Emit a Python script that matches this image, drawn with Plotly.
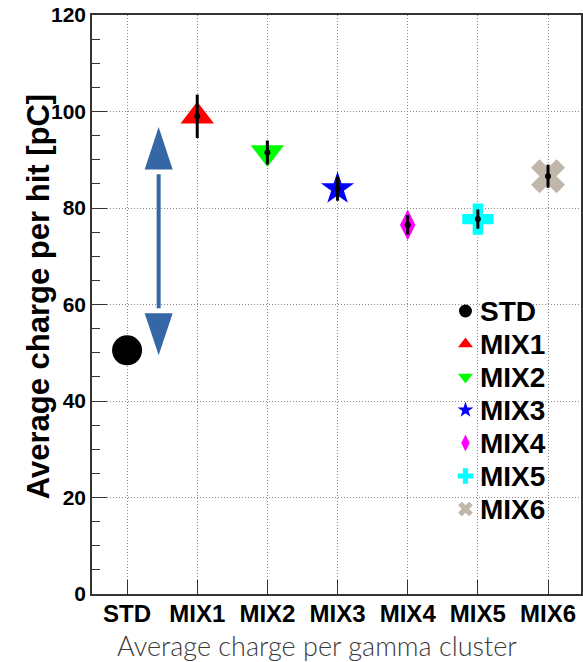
import plotly.graph_objects as go

categories = ["STD", "MIX1", "MIX2", "MIX3", "MIX4", "MIX5", "MIX6"]
values = [50.5, 99.0, 91.5, 84.0, 76.5, 77.7, 86.6]
errors = [0.0, 4.5, 2.5, 2.5, 2.0, 2.0, 2.4]
colors = ["#000000", "#ff0000", "#00ff00", "#0000ff", "#ff00ff", "#00ffff", "#c0b6aa"]
symbols = ["circle", "triangle-up", "triangle-down", "star", "diamond-tall", "cross", "x"]
sizes = [30, 29, 29, 25, 22, 26, 30]
legend_sizes = [13, 13, 13, 12, 12, 13, 13]

# arrow (STD -> mixtures gain)
arrow_x = 0.45
arrow_top = 96.8
arrow_top_base = 88.0
arrow_bottom = 49.5
arrow_bottom_base = 58.2
arrow_color = "#3566a5"

yticks = [0, 20, 40, 60, 80, 100, 120]

# layout geometry (pixels)
W, H = 583, 662
ML, MT, MB, MR = 92, 15, 68, 0

fig = go.Figure()

for i, c in enumerate(categories):
    fig.add_trace(go.Scatter(
        x=[i], y=[values[i]], mode="markers", name=c, showlegend=False,
        marker=dict(symbol=symbols[i], size=sizes[i], color=colors[i], line=dict(width=0)),
    ))
    if errors[i] > 0:
        fig.add_trace(go.Scatter(
            x=[i], y=[values[i]], mode="markers", showlegend=False,
            marker=dict(size=6, color="black"),
            error_y=dict(type="data", array=[errors[i]], color="black", thickness=3, width=0),
        ))

# manual legend on pixel-overlay axes
leg_x_marker = 467
leg_x_text = 480
leg_y0 = 311
leg_dy = 33
for i, c in enumerate(categories):
    yy = leg_y0 + i * leg_dy
    fig.add_trace(go.Scatter(
        x=[leg_x_marker], y=[yy], mode="markers", xaxis="x2", yaxis="y2", showlegend=False,
        marker=dict(symbol=symbols[i], size=legend_sizes[i], color=colors[i], line=dict(width=0)),
        hoverinfo="skip",
    ))
    fig.add_annotation(
        x=leg_x_text, y=yy, xref="x2", yref="y2", text="<b>%s</b>" % c, showarrow=False,
        xanchor="left", yanchor="middle",
        font=dict(family="Liberation Sans, Arial", size=28, color="black"),
    )

# double arrow
fig.add_shape(type="line", x0=arrow_x, x1=arrow_x, y0=arrow_bottom_base + 1, y1=arrow_top_base - 1,
              xref="x", yref="y", line=dict(color=arrow_color, width=4))
for tip, base in [(arrow_top, arrow_top_base), (arrow_bottom, arrow_bottom_base)]:
    fig.add_shape(type="path", xref="x", yref="y", xsizemode="pixel", xanchor=arrow_x,
                  path="M -14,%s L 14,%s L 0,%s Z" % (base, base, tip),
                  fillcolor=arrow_color, line=dict(width=0))

axis_color = "#333333"
grid_color = "#8a8a8a"
fig.update_layout(
    width=W, height=H, margin=dict(l=ML, r=MR, t=MT, b=MB),
    paper_bgcolor="white", plot_bgcolor="white",
    showlegend=False,
    xaxis=dict(
        range=[-0.5, 6.47], tickmode="array", tickvals=list(range(len(categories))),
        ticktext=["<b>%s</b>" % c for c in categories],
        tickfont=dict(family="Liberation Sans, Arial", size=24, color="black"),
        ticks="inside", ticklen=14, tickcolor=axis_color, tickwidth=1,
        ticklabelstandoff=-3,
        showgrid=True, gridcolor=grid_color, griddash="1px,2px", gridwidth=1,
        showline=True, linecolor=axis_color, linewidth=1.5, mirror=True,
        zeroline=False, fixedrange=True,
    ),
    yaxis=dict(
        range=[0, 120], tickmode="array", tickvals=yticks,
        ticktext=["<b>%d</b>" % v for v in yticks],
        tickfont=dict(family="Liberation Sans, Arial", size=21, color="black"),
        ticks="inside", ticklen=15, tickcolor=axis_color, tickwidth=1,
        minor=dict(dtick=5, ticks="inside", ticklen=8, tickcolor=axis_color, showgrid=False),
        showgrid=True, gridcolor=grid_color, griddash="1px,2px", gridwidth=1,
        showline=True, linecolor=axis_color, linewidth=1.5, mirror=True,
        zeroline=False, fixedrange=True,
    ),
    xaxis2=dict(range=[ML, W - MR], overlaying="x", visible=False, fixedrange=True),
    yaxis2=dict(range=[H - MB, MT], overlaying="y", visible=False, fixedrange=True),
)

fig.add_annotation(
    x=(38 - ML) / (W - ML - MR), y=(H - MB - 297) / (H - MT - MB), xref="paper", yref="paper",
    text="<b>Average charge per hit [pC]</b>", textangle=-90, showarrow=False,
    xanchor="center", yanchor="middle",
    font=dict(family="Liberation Sans, Arial", size=31, color="black"),
)
fig.add_annotation(
    x=(318 - ML) / (W - ML - MR), y=(H - MB - 645) / (H - MT - MB), xref="paper", yref="paper",
    text="Average charge per gamma cluster", showarrow=False,
    xanchor="center", yanchor="middle",
    font=dict(family="Lato", size=27, color="#3a3a3a", weight=300),
)

fig.write_html("out.html")
